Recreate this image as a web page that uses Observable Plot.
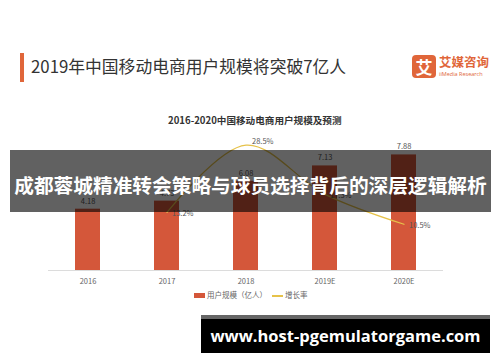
<!DOCTYPE html>
<html>
<head>
<meta charset="utf-8">
<script src="https://cdn.jsdelivr.net/npm/d3@7"></script>
<script src="https://cdn.jsdelivr.net/npm/@observablehq/plot@0.6"></script>
<style>
  html, body { margin: 0; padding: 0; background: #fff; }
  #wrap { position: relative; width: 500px; height: 362px; overflow: hidden; font-family: "Noto Sans CJK SC", "Noto Sans", sans-serif; }
  #wrap svg { position: absolute; left: 0; top: 0; }
  .abs { position: absolute; white-space: nowrap; }
</style>
</head>
<body>
<div id="wrap"></div>
<script>
const years = ["2016", "2017", "2018", "2019E", "2020E"];
const users = [4.18, 4.73, 6.08, 7.13, 7.88];
const growthYears = ["2017", "2018", "2019E", "2020E"];
const growth = [13.2, 28.5, 17.3, 10.5];
const userMax = 9;
const growthMax = 30;

const barData = years.map((y, i) => ({year: y, v: users[i]}));
const lineData = growthYears.map((y, i) => ({year: y, g: growth[i]}));

const barColor = "#d4573a";
const lineColor = "#e6c24a";
const gy = d => d.g * userMax / growthMax;

const chart = Plot.plot({
  width: 500,
  height: 362,
  marginLeft: 48,
  marginRight: 57,
  marginTop: 138,
  marginBottom: 92,
  style: {background: "transparent", fontFamily: "'Noto Sans CJK SC', 'Noto Sans', sans-serif"},
  x: {domain: years, paddingInner: 0.68, paddingOuter: 0.34, axis: null},
  y: {domain: [0, userMax], axis: null},
  marks: [
    Plot.ruleY([0], {stroke: "#dcdcdc", strokeWidth: 1}),
    Plot.barY(barData, {x: "year", y: "v", fill: barColor}),
    Plot.text(barData, {x: "year", y: "v", text: d => d.v.toFixed(2), dy: -8, fontSize: 7.5, fill: "#555"}),
    Plot.line(lineData, {x: "year", y: gy, stroke: lineColor, strokeWidth: 1.2, curve: "catmull-rom"}),
    Plot.text(lineData.filter(d => d.year !== "2018"), {x: "year", y: gy, text: d => d.g.toFixed(1) + "%",
      textAnchor: "start", dx: 5, dy: 1, fontSize: 7.5, fill: "#555"}),
    Plot.text(lineData.filter(d => d.year === "2018"), {x: "year", y: gy, text: d => d.g.toFixed(1) + "%",
      textAnchor: "start", dx: 6, dy: -4, fontSize: 7.5, fill: "#555"}),
    Plot.axisX({domain: years, tickSize: 0, tickPadding: 8, fontSize: 7.5, color: "#666", label: null})
  ]
});
const wrap = document.getElementById("wrap");
wrap.appendChild(chart);

function add(html, css) {
  const d = document.createElement("div");
  d.className = "abs";
  d.innerHTML = html;
  Object.assign(d.style, css);
  wrap.appendChild(d);
  return d;
}

// title accent bar and title
add("", {left: "20px", top: "53px", width: "4px", height: "29px", background: "#e0663a"});
add("2019年中国移动电商用户规模将突破7亿人", {left: "31px", top: "54px", fontSize: "16.8px", color: "#333", lineHeight: "24px"});

// logo
add("艾", {left: "412px", top: "55px", width: "24px", height: "23px", background: "#e0663a", borderRadius: "4px",
  color: "#fff", fontSize: "17px", fontWeight: "700", lineHeight: "23px", textAlign: "center"});
add("艾媒咨询", {left: "439px", top: "54px", fontSize: "12.5px", fontWeight: "700", color: "#e0663a", lineHeight: "16px"});
add("iiMedia Research", {left: "439px", top: "70px", fontSize: "5.5px", color: "#e0663a", lineHeight: "8px", fontFamily: "'Open Sans', sans-serif"});

// subtitle
add("2016-2020中国移动电商用户规模及预测", {left: "168px", top: "113px", fontSize: "9.6px", fontWeight: "700", color: "#333", lineHeight: "14px"});

// legend
add("", {left: "194px", top: "293px", width: "11px", height: "5px", background: barColor});
add("用户规模（亿人）", {left: "207px", top: "289px", fontSize: "7.5px", color: "#666", lineHeight: "12px"});
add("", {left: "272px", top: "295px", width: "11px", height: "1.5px", background: lineColor});
add("增长率", {left: "285px", top: "289px", fontSize: "7.5px", color: "#666", lineHeight: "12px"});

// overlay band
add("", {left: "10px", top: "150px", width: "481px", height: "62px", background: "rgba(0,0,0,0.62)"});
add("成都蓉城精准转会策略与球员选择背后的深层逻辑解析", {left: "10px", top: "171px", width: "481px", textAlign: "center",
  fontSize: "19.7px", fontWeight: "700", color: "#fff", lineHeight: "28px"});

// bottom url box
add("", {left: "201px", top: "315px", width: "289px", height: "4px", background: "#666"});
add("www.host-pgemulatorgame.com", {left: "201px", top: "319px", width: "289px", height: "34px", background: "#000",
  color: "#fff", fontSize: "16.5px", fontWeight: "700", lineHeight: "34px", textAlign: "center", fontFamily: "'Open Sans', 'DejaVu Sans', sans-serif"});
</script>
</body>
</html>
